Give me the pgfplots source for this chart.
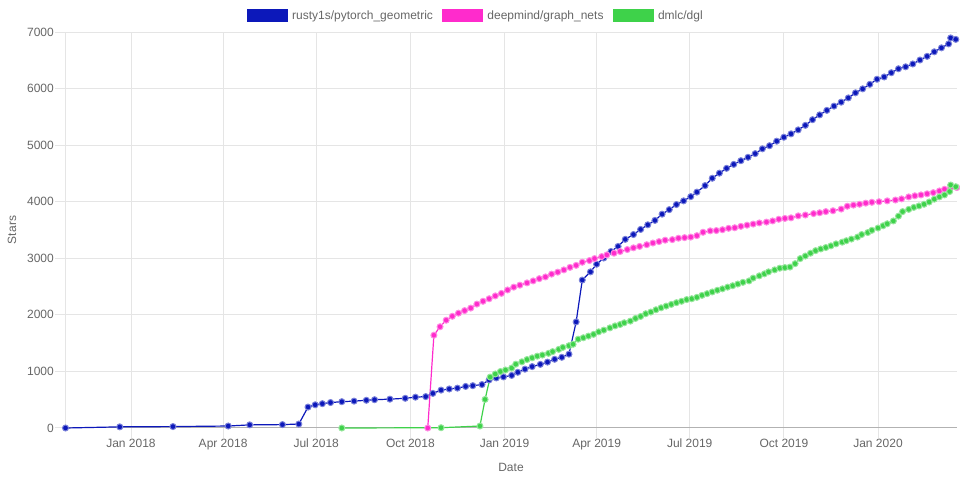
\documentclass[border=0pt]{standalone}
\usepackage{fontspec}
\setmainfont{Liberation Sans}
\usepackage{pgfplots}
\usepackage{pgfplotstable}
\pgfplotsset{compat=1.18}

\definecolor{pyg}{RGB}{12,24,186}
\definecolor{gnets}{RGB}{255,43,204}
\definecolor{dgl}{RGB}{62,210,74}
\definecolor{gridgray}{RGB}{229,229,229}
\definecolor{zerogray}{RGB}{178,178,178}
\definecolor{txtgray}{RGB}{102,102,102}

% x = days since 1 Jan 2018, y = stars
\pgfplotstableread{
day stars
-64 0
-11 20
41 25
95 35
116 55
148 60
164 70
173 370
180 410
187 430
195 450
206 465
218 475
230 490
238 500
253 510
268 525
278 545
288 555
295 612
303 670
311 690
319 705
327 735
334 748
343 768
350 850
357 885
364 903
372 930
378 985
385 1040
392 1085
400 1125
407 1165
414 1215
421 1250
428 1305
435 1875
441 2615
449 2760
455 2895
462 3005
469 3120
476 3210
483 3335
491 3420
498 3510
505 3592
512 3670
519 3780
526 3860
533 3950
540 4015
547 4090
553 4170
561 4285
568 4415
575 4505
582 4590
589 4660
596 4725
603 4785
610 4850
617 4935
624 4990
631 5070
638 5140
645 5200
652 5270
659 5350
666 5450
673 5535
680 5615
687 5690
694 5760
701 5835
708 5925
715 5995
722 6075
729 6165
736 6205
743 6280
750 6350
757 6385
764 6435
771 6505
778 6570
785 6650
792 6720
799 6790
801 6895
806 6870
}\pygtable

\pgfplotstableread{
day stars
290 0
296 1640
302 1790
308 1905
314 1975
320 2030
326 2075
332 2120
338 2190
344 2240
350 2285
356 2335
362 2380
368 2440
374 2490
380 2525
387 2565
393 2600
399 2640
405 2670
411 2720
417 2755
423 2795
429 2840
435 2875
441 2930
448 2960
453 2995
460 3030
465 3060
472 3090
478 3120
485 3155
491 3185
497 3210
504 3240
510 3270
516 3295
522 3320
529 3330
535 3355
541 3365
547 3375
553 3400
559 3460
566 3485
572 3490
578 3505
584 3530
590 3540
596 3565
602 3585
608 3605
614 3625
621 3640
627 3660
633 3690
639 3705
645 3715
652 3750
659 3765
667 3790
673 3805
679 3825
686 3840
694 3870
700 3920
706 3940
712 3955
718 3975
724 3990
731 4000
739 4015
747 4030
753 4050
760 4085
766 4105
772 4120
778 4140
784 4160
790 4190
795 4220
801 4250
807 4250
}\gnetstable

\pgfplotstableread{
day stars
206 0
303 5
341 35
346 505
351 900
356 955
361 998
366 1025
372 1060
376 1128
382 1170
387 1210
392 1240
397 1270
402 1290
408 1320
412 1350
418 1390
422 1425
428 1455
432 1480
437 1570
442 1595
447 1625
452 1655
457 1700
462 1730
468 1770
473 1805
478 1830
482 1860
488 1890
493 1937
498 1972
503 2020
508 2050
513 2090
518 2125
523 2155
528 2185
533 2215
538 2240
543 2270
548 2285
553 2310
558 2345
563 2375
568 2405
573 2435
578 2460
583 2490
588 2515
593 2545
598 2575
604 2600
608 2650
614 2690
619 2725
623 2760
629 2795
634 2825
639 2835
644 2845
649 2905
654 2995
659 3040
664 3090
669 3135
674 3165
679 3190
684 3220
689 3255
695 3285
699 3310
704 3340
710 3375
714 3420
720 3455
724 3495
730 3535
735 3575
739 3610
745 3660
750 3745
754 3825
760 3865
765 3900
770 3925
775 3955
780 3995
785 4045
790 4085
795 4120
800 4180
801 4295
806 4265
}\dgltable

\begin{document}
\begin{tikzpicture}
\useasboundingbox (0,0) rectangle (960bp,480bp);
\begin{axis}[
  at={(65bp,52bp)}, anchor=south west,
  width=892bp, height=396bp, scale only axis,
  xmin=-64.5, xmax=807.2,
  ymin=0, ymax=7000,
  xtick={0,90,181,273,365,455,546,638,730},
  xticklabels={Jan 2018,Apr 2018,Jul 2018,Oct 2018,Jan 2019,Apr 2019,Jul 2019,Oct 2019,Jan 2020},
  ytick={0,1000,...,7000},
  /pgf/number format/1000 sep={},
  /pgf/number format/assume math mode=true,
  axis x line*=bottom, axis y line*=left,
  x axis line style={draw=zerogray, line width=1bp, -},
  y axis line style={draw=gridgray, line width=1bp, -},
  grid=major,
  major grid style={draw=gridgray, line width=1bp},
  tick align=outside,
  major tick length=10bp,
  every tick/.style={draw=gridgray, line width=1bp},
  tick label style={font=\fontsize{12bp}{14bp}\selectfont, text=txtgray},
  yticklabel style={inner sep=1bp},
  xticklabel style={inner sep=1bp},
  xlabel={Date}, ylabel={Stars},
  every axis x label/.style={at={(axis description cs:0.5,-0.0985)}, anchor=center,
    font=\fontsize{12bp}{14bp}\selectfont, text=txtgray},
  every axis y label/.style={at={(axis description cs:-0.0594,0.5)}, anchor=center, rotate=90,
    font=\fontsize{12bp}{14bp}\selectfont, text=txtgray},
  clip=false,
  legend columns=-1,
  legend style={at={(axis description cs:0.461,1.0417)}, anchor=center,
    draw=none, fill=none, inner sep=0pt,
    font=\fontsize{12bp}{14bp}\selectfont, text=txtgray,
    nodes={inner xsep=3bp, inner ysep=0bp},
    /tikz/every even column/.append style={column sep=6bp}},
  legend image code/.code={\draw[#1, line width=1bp, fill, mark=none] (0bp,-6bp) rectangle (40bp,6bp); \path[draw=none] (0bp,0bp) rectangle (42bp,0bp);},
  every axis plot/.append style={line width=1.2bp, mark=*, mark size=3bp},
]
\addplot[pyg, mark options={fill=pyg, draw=pyg!55!white, line width=1bp}] table[x=day, y=stars] {\pygtable};
\addplot[gnets, mark options={fill=gnets, draw=gnets!55!white, line width=1bp}] table[x=day, y=stars] {\gnetstable};
\addplot[dgl, mark options={fill=dgl, draw=dgl!55!white, line width=1bp}] table[x=day, y=stars] {\dgltable};
\legend{rusty1s/pytorch\_geometric, deepmind/graph\_nets, dmlc/dgl}
\end{axis}
\end{tikzpicture}
\end{document}
